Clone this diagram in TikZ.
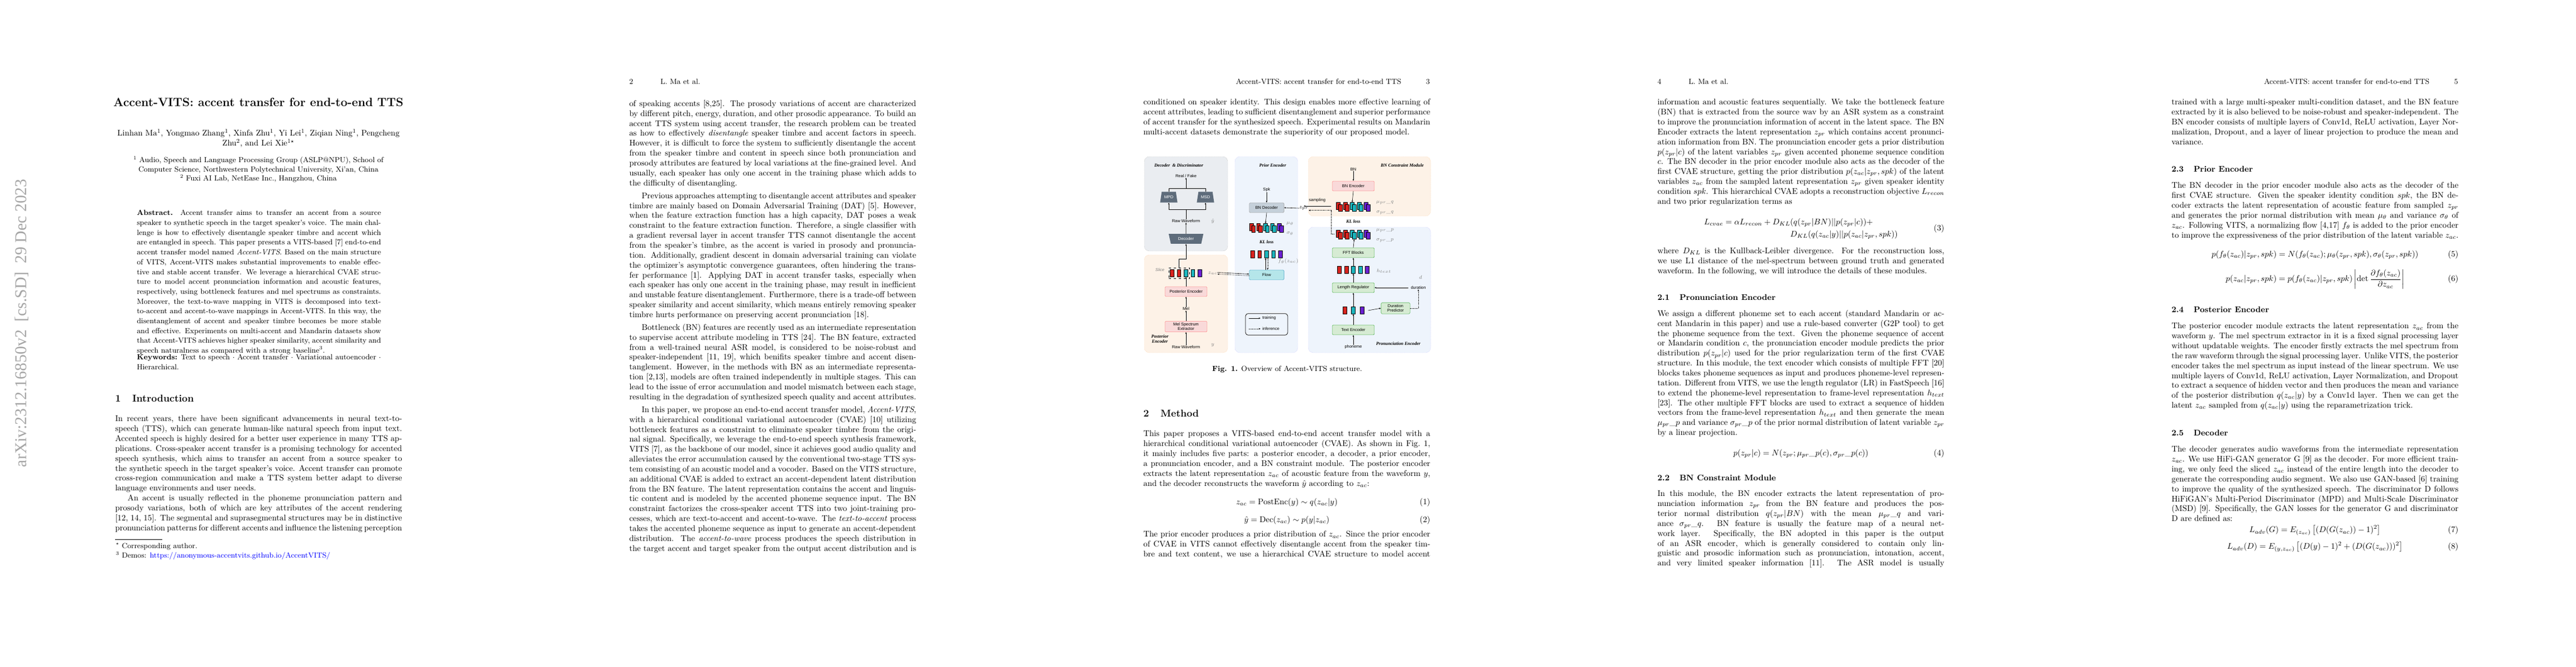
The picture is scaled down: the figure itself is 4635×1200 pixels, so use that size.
\documentclass[tikz,border=0pt]{standalone}
\usepackage{amsmath}
\usepackage{fontspec}
\usepackage{xcolor}
\usepackage{tikz}
\usetikzlibrary{arrows.meta,shapes.geometric}
\newfontfamily\figsf{Liberation Sans}
\newfontfamily\figrm{Liberation Serif}
\definecolor{slate}{HTML}{5E6C7B}
\definecolor{bred}{HTML}{D7231E}
\definecolor{bcyan}{HTML}{1BB5BD}
\definecolor{bpurple}{HTML}{6A1FD0}
\definecolor{pgray}{HTML}{EAEDF1}
\definecolor{porange}{HTML}{FDF2E7}
\definecolor{pblue}{HTML}{EEF4FC}
\definecolor{kpink}{HTML}{F9D9D9}
\definecolor{kgray}{HTML}{C5D0DA}
\definecolor{kcyan}{HTML}{B5E6EA}
\definecolor{kgreen}{HTML}{D6EBD3}
\tikzstyle{txt} = [anchor=north west, inner sep=0pt, text width=12.2cm, align=justify, font=\normalsize]
\tikzstyle{sec} = [anchor=west, inner sep=0pt, font=\large\bfseries]
\tikzstyle{subsec} = [anchor=west, inner sep=0pt, font=\normalsize\bfseries]
\tikzstyle{eqn} = [anchor=west, inner sep=0pt, text width=12.2cm]
\tikzstyle{head} = [inner sep=0pt, font=\small]
\tikzstyle{panel} = [dash pattern=on 1pt off 0.8pt, line width=0.3pt, rounded corners=6pt]
\tikzstyle{fbox} = [draw, rounded corners=1.2pt, line width=0.4pt, minimum width=51pt, minimum height=12pt, inner sep=0pt, align=center, font=\figsf\fontsize{5}{5.5}\selectfont]
\tikzstyle{flab} = [inner sep=0pt, align=center, font=\figsf\fontsize{5}{5.5}\selectfont]
\tikzstyle{ttl} = [inner sep=0pt, align=center, font=\figrm\bfseries\itshape\fontsize{5.5}{6}\selectfont]
\tikzstyle{sym} = [inner sep=0pt, text=gray, font=\fontsize{6}{7}\selectfont]
\tikzstyle{blk} = [draw=black, line width=0.5pt, minimum width=4.5pt, minimum height=8.5pt, inner sep=0pt]
\tikzstyle{trap} = [trapezium, trapezium stretches=true, trapezium left angle=70, trapezium right angle=70, fill=slate, text=white, inner sep=0pt, font=\figsf\fontsize{5}{5.5}\selectfont]
\tikzstyle{arr} = [-{Stealth[length=2.2pt,width=1.8pt]}, line width=0.4pt]
\tikzstyle{inf} = [dash pattern=on 1pt off 0.7pt]
\newcommand{\eqbox}[2]{\hbox to 12.2cm{\hfil$\displaystyle #1$\hfil\llap{(#2)}}}
\newcommand{\blkrow}[3]{\foreach \c [count=\i] in {bred,bred,bcyan,bcyan,bpurple}
  \node[blk, fill=\c] (#1\i) at ({#2+12.5*(\i-1)},#3) {};}
\newcommand{\fliprow}[3]{\foreach \c [count=\i] in {bred,bred,bcyan,bcyan,bpurple} {
  \node[blk, fill=\c] (#1b\i) at ({#2+12.5*(\i-1)-2},#3-2) {};
  \node[blk, fill=\c] (#1\i) at ({#2+12.5*(\i-1)+1.5},#3+1.5) {};}}
\begin{document}
\begin{tikzpicture}[x=0.02364cm, y=-0.02364cm]
  \useasboundingbox[fill=white] (0,0) rectangle (4635,1200);
  % arXiv stamp
  \node[rotate=90, anchor=east, inner sep=0pt, text=gray!70, font=\figrm\fontsize{20}{20}\selectfont] (stamp) at (39,322) {arXiv:2312.16850v2\ \ [cs.SD]\ \ 29 Dec 2023};

  % page 1
  \node[inner sep=0pt, font=\Large\bfseries] (title) at (465,184) {Accent-VITS: accent transfer for end-to-end TTS};
  \node[inner sep=0pt, text width=12.2cm, align=center] (authors) at (465,249) {Linhan Ma$^1$, Yongmao Zhang$^1$, Xinfa Zhu$^1$, Yi Lei$^1$, Ziqian Ning$^1$, Pengcheng\\ Zhu$^2$, and Lei Xie$^{1\star}$};
  \node[inner sep=0pt, text width=12.2cm, align=center, font=\small] (affil) at (465,305) {$^1$ Audio, Speech and Language Processing Group (ASLP@NPU), School of\\ Computer Science, Northwestern Polytechnical University, Xi'an, China\\ $^2$ Fuxi AI Lab, NetEase Inc., Hangzhou, China};
  \node[txt, text width=10.38cm, font=\fontsize{9}{11.9}\selectfont] (abstract) at (246,378) {\textbf{Abstract.} Accent transfer aims to transfer an accent from a source speaker to synthetic speech in the target speaker's voice. The main challenge is how to effectively disentangle speaker timbre and accent which are entangled in speech. This paper presents a VITS-based~[7] end-to-end accent transfer model named \emph{Accent-VITS}. Based on the main structure of VITS, Accent-VITS makes substantial improvements to enable effective and stable accent transfer. We leverage a hierarchical CVAE structure to model accent pronunciation information and acoustic features, respectively, using bottleneck features and mel spectrums as constraints. Moreover, the text-to-wave mapping in VITS is decomposed into text-to-accent and accent-to-wave mappings in Accent-VITS. In this way, the disentanglement of accent and speaker timbre becomes be more stable and effective. Experiments on multi-accent and Mandarin datasets show that Accent-VITS achieves higher speaker similarity, accent similarity and speech naturalness as compared with a strong baseline$^3$.};
  \node[txt, text width=10.38cm, font=\fontsize{9}{11.9}\selectfont] (keywords) at (246,638) {\textbf{Keywords:} Text to speech $\cdot$ Accent transfer $\cdot$ Variational autoencoder $\cdot$ Hierarchical.};
  \node[sec] (sec1) at (207,717) {1\hspace{14pt}Introduction};
  \node[txt] (intro) at (207,748) {\parindent=15pt\noindent In recent years, there have been significant advancements in neural text-to-speech (TTS), which can generate human-like natural speech from input text. Accented speech is highly desired for a better user experience in many TTS applications. Cross-speaker accent transfer is a promising technology for accented speech synthesis, which aims to transfer an accent from a source speaker to the synthetic speech in the target speaker's voice. Accent transfer can promote cross-region communication and make a TTS system better adapt to diverse language environments and user needs.\par
  \indent An accent is usually reflected in the phoneme pronunciation pattern and prosody variations, both of which are key attributes of the accent rendering [12, 14, 15]. The segmental and suprasegmental structures may be in distinctive pronunciation patterns for different accents and influence the listening perception{\parfillskip=0pt\par}};
  \draw[line width=0.4pt] (207,971) -- (292,971);
  \node[txt, font=\fontsize{9}{12}\selectfont] (foot) at (207,977) {\hspace*{5pt}\llap{$^\star$}\ Corresponding author.\\ \hspace*{5pt}\llap{$^3$}\ Demos: \textcolor{blue}{https://anonymous-accentvits.github.io/AccentVITS/}};

  % page 2
  \node[head, anchor=west] (head2) at (1132,147) {2\hspace{33pt}L. Ma et al.};
  \node[txt] (body2) at (1132,180) {\parindent=15pt\parskip=3.5pt\noindent of speaking accents [8,25]. The prosody variations of accent are characterized by different pitch, energy, duration, and other prosodic appearance. To build an accent TTS system using accent transfer, the research problem can be treated as how to effectively \emph{disentangle} speaker timbre and accent factors in speech. However, it is difficult to force the system to sufficiently disentangle the accent from the speaker timbre and content in speech since both pronunciation and prosody attributes are featured by local variations at the fine-grained level. And usually, each speaker has only one accent in the training phase which adds to the difficulty of disentangling.\par
  \indent Previous approaches attempting to disentangle accent attributes and speaker timbre are mainly based on Domain Adversarial Training (DAT)~[5]. However, when the feature extraction function has a high capacity, DAT poses a weak constraint to the feature extraction function. Therefore, a single classifier with a gradient reversal layer in accent transfer TTS cannot disentangle the accent from the speaker's timbre, as the accent is varied in prosody and pronunciation. Additionally, gradient descent in domain adversarial training can violate the optimizer's asymptotic convergence guarantees, often hindering the transfer performance~[1]. Applying DAT in accent transfer tasks, especially when each speaker has only one accent in the training phase, may result in inefficient and unstable feature disentanglement. Furthermore, there is a trade-off between speaker similarity and accent similarity, which means entirely removing speaker timbre hurts performance on preserving accent pronunciation~[18].\par
  \indent Bottleneck (BN) features are recently used as an intermediate representation to supervise accent attribute modeling in TTS~[24]. The BN feature, extracted from a well-trained neural ASR model, is considered to be noise-robust and speaker-independent [11, 19], which benifits speaker timbre and accent disentanglement. However, in the methods with BN as an intermediate representation [2,13], models are often trained independently in multiple stages. This can lead to the issue of error accumulation and model mismatch between each stage, resulting in the degradation of synthesized speech quality and accent attributes.\par
  \indent In this paper, we propose an end-to-end accent transfer model, \emph{Accent-VITS}, with a hierarchical conditional variational autoencoder (CVAE)~[10] utilizing bottleneck features as a constraint to eliminate speaker timbre from the original signal. Specifically, we leverage the end-to-end speech synthesis framework, VITS [7], as the backbone of our model, since it achieves good audio quality and alleviates the error accumulation caused by the conventional two-stage TTS system consisting of an acoustic model and a vocoder. Based on the VITS structure, an additional CVAE is added to extract an accent-dependent latent distribution from the BN feature. The latent representation contains the accent and linguistic content and is modeled by the accented phoneme sequence input. The BN constraint factorizes the cross-speaker accent TTS into two joint-training processes, which are text-to-accent and accent-to-wave. The \emph{text-to-accent} process takes the accented phoneme sequence as input to generate an accent-dependent distribution. The \emph{accent-to-wave} process produces the speech distribution in the target accent and target speaker from the output accent distribution and is{\parfillskip=0pt\par}};

  % page 3
  \node[head, anchor=east] (head3) at (2573,147) {Accent-VITS: accent transfer for end-to-end TTS\hspace{30pt}3};
  \node[txt] (body3) at (2057,178) {\noindent conditioned on speaker identity. This design enables more effective learning of accent attributes, leading to sufficient disentanglement and superior performance of accent transfer for the synthesized speech. Experimental results on Mandarin multi-accent datasets demonstrate the superiority of our proposed model.};
  \begin{scope}[shift={(2059,282)}]
    % panels
    \draw[panel, draw=gray!50, fill=pgray] (0,0) rectangle (150,170);
    \draw[panel, draw=orange!30, fill=porange] (0,177) rectangle (150,353);
    \draw[panel, draw=blue!20, fill=pblue] (163,0) rectangle (276,353);
    \draw[panel, draw=orange!30, fill=porange] (295,0) rectangle (515,107);
    \draw[panel, draw=blue!20, fill=pblue] (295,127) rectangle (515,353);
    % decoder & discriminator
    \node[ttl] (ddlab) at (62,16) {Decoder \ \& Discriminator};
    \node[flab] (rf) at (75,35) {Real / Fake};
    \node[trap, minimum width=21pt, minimum height=13pt] (mpd) at (44,73) {MPD};
    \node[trap, minimum width=21pt, minimum height=13pt] (msd) at (110,73) {MSD};
    \node[flab] (rw1) at (75,116) {Raw Waveform};
    \node[sym] (yhat) at (123,116) {$\hat{y}$};
    \node[trap, shape border rotate=180, minimum width=42pt, minimum height=12pt] (dec) at (75,148) {Decoder};
    \coordinate (split) at (75,95);
    \coordinate (join) at (75,57);
    % posterior encoder
    \node[inner sep=0pt, text=gray, font=\figsf\itshape\fontsize{5}{5.5}\selectfont] (slicelab) at (28,204) {Slice};
    \blkrow{sl}{50}{210}
    \node[draw, dashed, line width=0.4pt, minimum width=25pt, minimum height=13pt, inner sep=0pt] (slc) at (62.5,210) {};
    \coordinate (bend) at (62.5,184);
    \node[sym] (zac) at (123,210) {$z_{ac}$};
    \node[fbox, fill=kpink, draw=red!45] (penc) at (75,243) {Posterior Encoder};
    \node[flab] (mel) at (75,274) {Mel};
    \node[fbox, fill=kpink, draw=red!45, minimum height=13pt] (mse) at (75,306) {Mel Spectrum\\Extractor};
    \node[ttl] (pelab) at (28,328) {Posterior\\Encoder};
    \node[flab] (rw2) at (75,343) {Raw Waveform};
    \node[sym] (ylab) at (123,339) {$y$};
    % prior encoder
    \node[ttl] (prlab1) at (231,16) {Prior Encoder};
    \node[flab] (spk) at (220,60) {Spk};
    \node[fbox, fill=kgray, draw=gray!70, minimum width=42pt] (bndec) at (220,92) {BN Decoder};
    \fliprow{tf}{195}{129}
    \node[sym] (mut) at (262,121) {$\mu_\theta$};
    \node[sym] (sigt) at (262,139) {$\sigma_\theta$};
    \node[ttl] (kl1) at (220,154) {KL loss};
    \blkrow{th}{195}{176}
    \node[sym] (fth) at (259,188) {$f_\theta(z_{ac})$};
    \node[fbox, fill=kcyan, draw=cyan!60!gray, minimum width=42pt] (flow) at (220,213) {Flow};
    \node[draw, rounded corners=3pt, line width=0.5pt, minimum width=51pt, minimum height=26pt, inner sep=0pt] (lgd) at (220,302) {};
    \node[flab, anchor=west] (ltr) at (212,291) {training};
    \node[flab, anchor=west] (linf) at (212,310) {inference};
    \draw[arr] ([xshift=-16pt]ltr.west) -- ([xshift=-2pt]ltr.west);
    \draw[arr, inf] ([xshift=-16pt]linf.west) -- ([xshift=-2pt]linf.west);
    \node[inner sep=0pt, font=\fontsize{6}{7}\selectfont] (zpr) at (287,93) {$z_{pr}$};
    \node[flab] (sampling) at (311,79) {sampling};
    % BN constraint module
    \node[ttl] (bnlab) at (464,16) {BN Constraint Module};
    \node[flab] (bn) at (376,23) {BN};
    \node[fbox, fill=kpink, draw=red!45] (bnenc) at (376,53) {BN Encoder};
    \fliprow{q}{351}{91}
    \node[sym] (muq) at (433,83) {$\mu_{pr}\_q$};
    \node[sym] (sigq) at (433,101) {$\sigma_{pr}\_q$};
    \node[ttl] (kl2) at (376,117) {KL loss};
    % pronunciation encoder
    \fliprow{p}{351}{141}
    \node[sym] (mup) at (433,133) {$\mu_{pr}\_p$};
    \node[sym] (sigp) at (433,151) {$\sigma_{pr}\_p$};
    \node[fbox, fill=kgreen, draw=green!40!gray] (fft) at (376,173) {FFT Blocks};
    \blkrow{h}{351}{204}
    \node[sym] (htext) at (431,206) {$h_{text}$};
    \node[fbox, fill=kgreen, draw=green!40!gray] (lr) at (376,236) {Length Regulator};
    \node[sym] (dlab) at (497,217) {$d$};
    \node[flab] (dur) at (493,236) {duration};
    \foreach \c [count=\i] in {bred,bcyan,bpurple}
      \node[blk, fill=\c] (r\i) at ({360.5+15.5*(\i-1)},277) {};
    \node[fbox, fill=kgreen, draw=green!40!gray, minimum width=35pt, minimum height=13.5pt] (dpred) at (452,273) {Duration\\Predictor};
    \node[fbox, fill=kgreen, draw=green!40!gray] (tenc) at (376,312) {Text Encoder};
    \node[flab] (phon) at (376,343) {phoneme};
    \node[ttl] (prlab2) at (457,337) {Pronunciation Encoder};
    % connectors
    \draw[line width=0.4pt] (rw1.north) -- (split);
    \draw[arr] (split) -| (mpd.south);
    \draw[arr] (split) -| (msd.south);
    \draw[line width=0.4pt] (mpd.north) |- (join);
    \draw[line width=0.4pt] (msd.north) |- (join);
    \draw[arr] (join) -- (rf.south);
    \draw[arr] (dec.north) -- (rw1.south);
    \draw[arr] (slc.north) -- (bend) -| (dec.south);
    \draw[arr] (rw2.north) -- (mse.south);
    \draw[arr] (mse.north) -- (mel.south);
    \draw[arr] (mel.north) -- (penc.south);
    \draw[arr] (penc.north) -- (sl3.south);
    \draw[arr] ([yshift=1pt]zac.east) -- ([yshift=1pt]flow.west);
    \draw[arr, inf] ([yshift=-1pt]flow.west) -- ([yshift=-1pt]zac.east);
    \draw[arr] ([xshift=-1.2pt]flow.north) -- ([xshift=-1.2pt]th3.south);
    \draw[arr, inf] ([xshift=1.2pt]th3.south) -- ([xshift=1.2pt]flow.north);
    \draw[arr] (spk.south) -- (bndec.north);
    \draw[arr] (bndec.south) -- (tfb3.north);
    \draw[arr] (zpr.west) -- (bndec.east);
    \draw[arr] ([xshift=-6pt]qb1.west) -- ([xshift=-6pt]qb1.west -| zpr.east);
    \draw[arr, inf] ([xshift=-2pt]pb1.west) -- ++(-6,0) |- ([yshift=-2.5pt]zpr.east);
    \draw[arr] (bn.south) -- (bnenc.north);
    \draw[arr] (bnenc.south) -- (qb3.north);
    \draw[arr] (phon.north) -- (tenc.south);
    \draw[arr] (tenc.north) -- (r2.south);
    \draw[arr] (r2.north) -- (lr.south);
    \draw[arr] (lr.north) -- (h3.south);
    \draw[arr] (h3.north) -- (fft.south);
    \draw[arr] (fft.north) -- (p3.south);
    \draw[arr] ([xshift=5pt]r3.east) -- (dpred.west);
    \draw[arr, inf] (dpred.east) -| (dur.south);
    \draw[arr] ([xshift=-3pt]dur.west) -- (lr.east);
  \end{scope}
  \node[inner sep=0pt, font=\small] (caption) at (2316,665) {\textbf{Fig. 1.} Overview of Accent-VITS structure.};
  \node[sec] (sec2) at (2057,744) {2\hspace{14pt}Method};
  \node[txt] (method) at (2057,775) {\noindent This paper proposes a VITS-based end-to-end accent transfer model with a hierarchical conditional variational autoencoder (CVAE). As shown in Fig.~1, it mainly includes five parts: a posterior encoder, a decoder, a prior encoder, a pronunciation encoder, and a BN constraint module. The posterior encoder extracts the latent representation $z_{ac}$ of acoustic feature from the waveform $y$, and the decoder reconstructs the waveform $\hat{y}$ according to $z_{ac}$:};
  \node[eqn] (eq1) at (2057,905) {\eqbox{z_{ac} = \mathrm{PostEnc}(y) \sim q(z_{ac}|y)}{1}};
  \node[eqn] (eq2) at (2057,937) {\eqbox{\hat{y} = \mathrm{Dec}(z_{ac}) \sim p(y|z_{ac})}{2}};
  \node[txt] (method2) at (2057,956) {\noindent The prior encoder produces a prior distribution of $z_{ac}$. Since the prior encoder of CVAE in VITS cannot effectively disentangle accent from the speaker timbre and text content, we use a hierarchical CVAE structure to model accent{\parfillskip=0pt\par}};

  % page 4
  \node[head, anchor=west] (head4) at (2982,147) {4\hspace{33pt}L. Ma et al.};
  \node[txt] (body4) at (2982,178) {\noindent information and acoustic features sequentially. We take the bottleneck feature (BN) that is extracted from the source wav by an ASR system as a constraint to improve the pronunciation information of accent in the latent space. The BN Encoder extracts the latent representation $z_{pr}$ which contains accent pronunciation information from BN. The pronunciation encoder gets a prior distribution $p(z_{pr}|c)$ of the latent variables $z_{pr}$ given accented phoneme sequence condition $c$. The BN decoder in the prior encoder module also acts as the decoder of the first CVAE structure, getting the prior distribution $p(z_{ac}|z_{pr},spk)$ of the latent variables $z_{ac}$ from the sampled latent representation $z_{pr}$ given speaker identity condition $spk$. This hierarchical CVAE adopts a reconstruction objective $L_{recon}$ and two prior regularization terms as};
  \node[eqn] (eq3) at (2982,412) {\eqbox{\begin{aligned}L_{cvae} = \alpha L_{recon} + D_{KL}&(q(z_{pr}|BN)||p(z_{pr}|c))+\\ &D_{KL}(q(z_{ac}|y)||p(z_{ac}|z_{pr},spk))\end{aligned}}{3}};
  \node[txt] (body4b) at (2982,446) {\noindent where $D_{KL}$ is the Kullback-Leibler divergence. For the reconstruction loss, we use L1 distance of the mel-spectrum between ground truth and generated waveform. In the following, we will introduce the details of these modules.};
  \node[subsec] (sec21) at (2982,535) {2.1\hspace{12pt}Pronunciation Encoder};
  \node[txt] (body4c) at (2982,558) {\noindent We assign a different phoneme set to each accent (standard Mandarin or accent Mandarin in this paper) and use a rule-based converter (G2P tool) to get the phoneme sequence from the text. Given the phoneme sequence of accent or Mandarin condition $c$, the pronunciation encoder module predicts the prior distribution $p(z_{pr}|c)$ used for the prior regularization term of the first CVAE structure. In this module, the text encoder which consists of multiple FFT~[20] blocks takes phoneme sequences as input and produces phoneme-level representation. Different from VITS, we use the length regulator (LR) in FastSpeech~[16] to extend the phoneme-level representation to frame-level representation $h_{text}$ [23]. The other multiple FFT blocks are used to extract a sequence of hidden vectors from the frame-level representation $h_{text}$ and then generate the mean $\mu_{pr}\_p$ and variance $\sigma_{pr}\_p$ of the prior normal distribution of latent variable $z_{pr}$ by a linear projection.};
  \node[eqn] (eq4) at (2982,817) {\eqbox{p(z_{pr}|c) = N(z_{pr};\mu_{pr}\_p(c),\sigma_{pr}\_p(c))}{4}};
  \node[subsec] (sec22) at (2982,860) {2.2\hspace{12pt}BN Constraint Module};
  \node[txt] (body4d) at (2982,883) {\noindent In this module, the BN encoder extracts the latent representation of pronunciation information $z_{pr}$ from the BN feature and produces the posterior normal distribution $q(z_{pr}|BN)$ with the mean $\mu_{pr}\_q$ and variance $\sigma_{pr}\_q$. BN feature is usually the feature map of a neural network layer. Specifically, the BN adopted in this paper is the output of an ASR encoder, which is generally considered to contain only linguistic and prosodic information such as pronunciation, intonation, accent, and very limited speaker information~[11]. The ASR model is usually{\parfillskip=0pt\par}};

  % page 5
  \node[head, anchor=east] (head5) at (4423,147) {Accent-VITS: accent transfer for end-to-end TTS\hspace{30pt}5};
  \node[txt] (body5) at (3907,178) {\noindent trained with a large multi-speaker multi-condition dataset, and the BN feature extracted by it is also believed to be noise-robust and speaker-independent. The BN encoder consists of multiple layers of Conv1d, ReLU activation, Layer Normalization, Dropout, and a layer of linear projection to produce the mean and variance.};
  \node[subsec] (sec23) at (3907,304) {2.3\hspace{12pt}Prior Encoder};
  \node[txt] (body5b) at (3907,328) {\noindent The BN decoder in the prior encoder module also acts as the decoder of the first CVAE structure. Given the speaker identity condition $spk$, the BN decoder extracts the latent representation of acoustic feature from sampled $z_{pr}$ and generates the prior normal distribution with mean $\mu_\theta$ and variance $\sigma_\theta$ of $z_{ac}$. Following VITS, a normalizing flow [4,17] $f_\theta$ is added to the prior encoder to improve the expressiveness of the prior distribution of the latent variable $z_{ac}$.};
  \node[eqn] (eq5) at (3907,459) {\eqbox{p(f_\theta(z_{ac})|z_{pr},spk) = N(f_\theta(z_{ac});\mu_\theta(z_{pr},spk),\sigma_\theta(z_{pr},spk))}{5}};
  \node[eqn] (eq6) at (3907,503) {\eqbox{p(z_{ac}|z_{pr},spk) = p(f_\theta(z_{ac})|z_{pr},spk)\left|\det\frac{\partial f_\theta(z_{ac})}{\partial z_{ac}}\right|}{6}};
  \node[subsec] (sec24) at (3907,557) {2.4\hspace{12pt}Posterior Encoder};
  \node[txt] (body5c) at (3907,581) {\noindent The posterior encoder module extracts the latent representation $z_{ac}$ from the waveform $y$. The mel spectrum extractor in it is a fixed signal processing layer without updatable weights. The encoder firstly extracts the mel spectrum from the raw waveform through the signal processing layer. Unlike VITS, the posterior encoder takes the mel spectrum as input instead of the linear spectrum. We use multiple layers of Conv1d, ReLU activation, Layer Normalization, and Dropout to extract a sequence of hidden vector and then produces the mean and variance of the posterior distribution $q(z_{ac}|y)$ by a Conv1d layer. Then we can get the latent $z_{ac}$ sampled from $q(z_{ac}|y)$ using the reparametrization trick.};
  \node[subsec] (sec25) at (3907,779) {2.5\hspace{12pt}Decoder};
  \node[txt] (body5d) at (3907,803) {\noindent The decoder generates audio waveforms from the intermediate representation $z_{ac}$. We use HiFi-GAN generator G~[9] as the decoder. For more efficient training, we only feed the sliced $z_{ac}$ instead of the entire length into the decoder to generate the corresponding audio segment. We also use GAN-based~[6] training to improve the quality of the synthesized speech. The discriminator D follows HiFiGAN's Multi-Period Discriminator (MPD) and Multi-Scale Discriminator (MSD)~[9]. Specifically, the GAN losses for the generator G and discriminator D are defined as:};
  \node[eqn] (eq7) at (3907,955) {\eqbox{L_{adv}(G) = E_{(z_{ac})}\left[(D(G(z_{ac}))-1)^2\right]}{7}};
  \node[eqn] (eq8) at (3907,985) {\eqbox{L_{adv}(D) = E_{(y,z_{ac})}\left[(D(y)-1)^2+(D(G(z_{ac})))^2\right]}{8}};
\end{tikzpicture}
\end{document}
